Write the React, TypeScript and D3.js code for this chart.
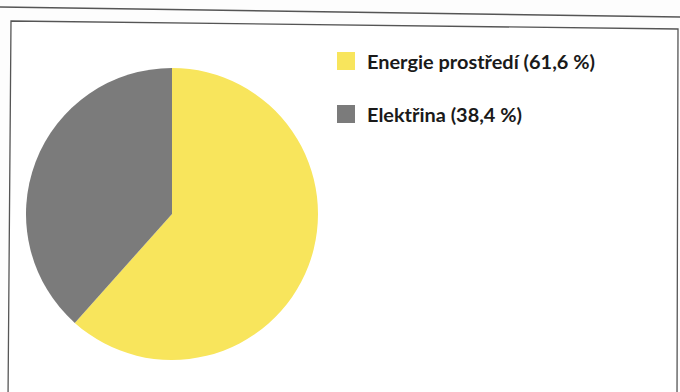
import React from "react";
import * as d3 from "d3";

const categories = ["Energie prostředí", "Elektřina"];
const values = [61.6, 38.4];
const legendLabels = ["Energie prostředí (61,6 %)", "Elektřina (38,4 %)"];
const colors = ["#F8E55C", "#7B7B7B"];

export default function App() {
  const W = 680, H = 392;
  const cx = 172, cy = 214, r = 146;
  const pie = d3.pie<number>().sort(null).value((d) => d)(values);
  const arc = d3.arc<d3.PieArcDatum<number>>().innerRadius(0).outerRadius(r);
  const textWidths = [228, 155];
  return (
    <svg width={W} height={H} style={{ position: "absolute", left: 0, top: 0, background: "#fdfdfd" }}>
      <rect x={0} y={0} width={W} height={H} fill="#fdfdfd" />
      <line x1={0} y1={7} x2={W} y2={17} stroke="#555" strokeWidth={1.6} />
      <path d="M11,21 L678,29 L677,400 L8,400 Z" fill="#fff" stroke="#555" strokeWidth={1.3} />
      <g transform={`translate(${cx},${cy})`}>
        {pie.map((p, i) => (
          <path key={categories[i]} d={arc(p) || ""} fill={colors[i]} />
        ))}
      </g>
      {legendLabels.map((l, i) => (
        <g key={l} transform={`translate(337,${52 + i * 53})`}>
          <rect x={0} y={0} width={18} height={18} fill={colors[i]} />
          <text
            x={30}
            y={17}
            fontFamily="Lato, 'Open Sans', sans-serif"
            fontWeight={700}
            fontSize={19.5}
            fill="#1a1a1a"
            textLength={textWidths[i]}
            lengthAdjust="spacingAndGlyphs"
          >
            {l}
          </text>
        </g>
      ))}
    </svg>
  );
}
